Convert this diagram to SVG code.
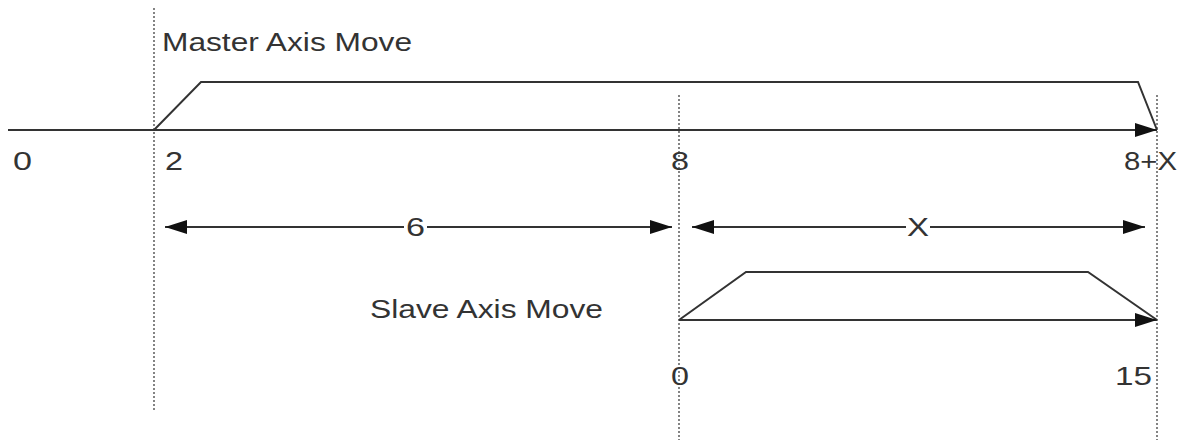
<svg xmlns="http://www.w3.org/2000/svg" width="1177" height="445" viewBox="0 0 1177 445">
<style>
text{font-family:"Liberation Sans",Arial,sans-serif;font-size:25px;fill:#333}
.dot{stroke:#333;stroke-width:1.2;stroke-dasharray:2 2;fill:none}
.ln{stroke:#333;stroke-width:2;fill:none}
</style>
<defs>
<marker id="ah" markerUnits="userSpaceOnUse" markerWidth="22" markerHeight="14" refX="22" refY="7" orient="auto-start-reverse">
<path d="M0,0 L22,7 L0,14 z" fill="#111"/>
</marker>
</defs>
<rect width="1177" height="445" fill="#fff"/>
<g id="guides">
<line class="dot" x1="154" y1="8" x2="154" y2="412"/>
<line class="dot" x1="679" y1="95" x2="679" y2="440"/>
<line class="dot" x1="1157" y1="95" x2="1157" y2="440"/>
</g>
<g id="master">
<text x="162" y="51" textLength="250" lengthAdjust="spacingAndGlyphs">Master Axis Move</text>
<polyline class="ln" points="154,130 201,82 1138,82 1157,130"/>
</g>
<g id="slave">
<text x="370" y="318" textLength="233" lengthAdjust="spacingAndGlyphs">Slave Axis Move</text>
<polyline class="ln" points="679,320 746,272 1088,272 1157,320"/>
</g>
<g id="connectors">
<line class="ln" x1="8" y1="130" x2="1157" y2="130" marker-end="url(#ah)"/>
<line class="ln" x1="679" y1="320" x2="1157" y2="320" marker-end="url(#ah)"/>
<line class="ln" x1="165" y1="227" x2="404" y2="227" marker-start="url(#ah)"/>
<line class="ln" x1="427" y1="227" x2="672" y2="227" marker-end="url(#ah)"/>
<line class="ln" x1="692" y1="227" x2="906" y2="227" marker-start="url(#ah)"/>
<line class="ln" x1="930" y1="227" x2="1145" y2="227" marker-end="url(#ah)"/>
</g>
<g id="labels">
<text x="13" y="170" textLength="19" lengthAdjust="spacingAndGlyphs">0</text>
<text x="165" y="170" textLength="18" lengthAdjust="spacingAndGlyphs">2</text>
<text x="671" y="170" textLength="18" lengthAdjust="spacingAndGlyphs">8</text>
<text x="1124" y="170" textLength="53" lengthAdjust="spacingAndGlyphs">8+X</text>
<text x="406" y="236" textLength="19" lengthAdjust="spacingAndGlyphs">6</text>
<text x="907" y="236" textLength="22" lengthAdjust="spacingAndGlyphs">X</text>
<text x="671" y="385" textLength="18" lengthAdjust="spacingAndGlyphs">0</text>
<text x="1115" y="385" textLength="37" lengthAdjust="spacingAndGlyphs">15</text>
</g>
</svg>
